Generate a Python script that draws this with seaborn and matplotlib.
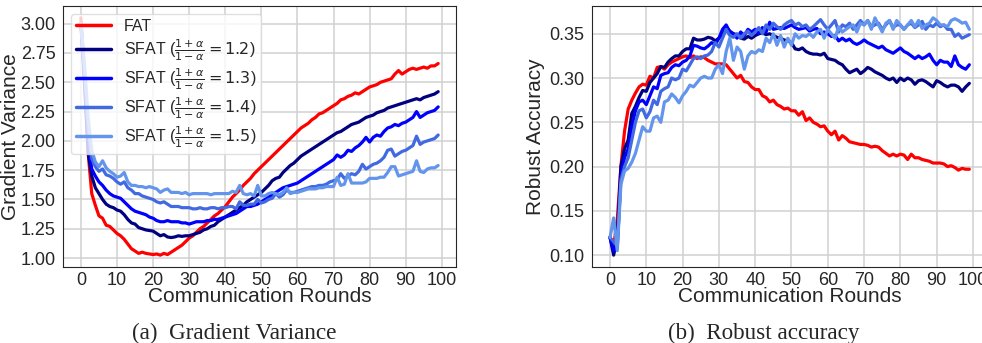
import numpy as np
import pandas as pd
import matplotlib
matplotlib.use("Agg")
import matplotlib.pyplot as plt
import seaborn as sns

rounds = list(range(100))
labels = ["FAT",
          r"SFAT ($\frac{1+\alpha}{1-\alpha}=1.2$)",
          r"SFAT ($\frac{1+\alpha}{1-\alpha}=1.3$)",
          r"SFAT ($\frac{1+\alpha}{1-\alpha}=1.4$)",
          r"SFAT ($\frac{1+\alpha}{1-\alpha}=1.5$)"]
colors = ["#ff0000", "#000080", "#0000ff", "#4169e1", "#6495ed"]

# ---- Gradient variance ----
gv_fat = [3.05, 2.55, 1.90, 1.55, 1.45, 1.36, 1.34, 1.28, 1.27, 1.24,
          1.21, 1.19, 1.16, 1.12, 1.08, 1.06, 1.04, 1.05, 1.04, 1.035,
          1.03, 1.035, 1.025, 1.04, 1.03, 1.05, 1.07, 1.09, 1.11, 1.14,
          1.17, 1.19, 1.22, 1.25, 1.27, 1.30, 1.33, 1.36, 1.38, 1.41,
          1.44, 1.48, 1.52, 1.55, 1.58, 1.62, 1.65, 1.68, 1.72, 1.75,
          1.78, 1.81, 1.84, 1.87, 1.90, 1.93, 1.96, 1.99, 2.02, 2.05,
          2.08, 2.11, 2.13, 2.15, 2.18, 2.20, 2.23, 2.24, 2.26, 2.28,
          2.30, 2.32, 2.35, 2.36, 2.38, 2.39, 2.41, 2.40, 2.42, 2.44,
          2.46, 2.47, 2.48, 2.50, 2.51, 2.52, 2.53, 2.57, 2.60, 2.57,
          2.59, 2.61, 2.62, 2.61, 2.62, 2.63, 2.62, 2.64, 2.64, 2.66]
gv_12 = [3.00, 2.50, 1.90, 1.70, 1.60, 1.55, 1.50, 1.46, 1.44, 1.43,
         1.41, 1.40, 1.37, 1.33, 1.30, 1.29, 1.26, 1.25, 1.24, 1.235,
         1.23, 1.21, 1.19, 1.20, 1.18, 1.175, 1.18, 1.19, 1.185, 1.19,
         1.19, 1.20, 1.21, 1.22, 1.24, 1.25, 1.27, 1.28, 1.31, 1.33,
         1.35, 1.37, 1.39, 1.41, 1.43, 1.45, 1.48, 1.50, 1.52, 1.54,
         1.56, 1.59, 1.62, 1.66, 1.68, 1.69, 1.73, 1.76, 1.79, 1.81,
         1.84, 1.87, 1.89, 1.91, 1.93, 1.95, 1.97, 1.99, 2.01, 2.03,
         2.05, 2.07, 2.08, 2.10, 2.12, 2.14, 2.15, 2.16, 2.18, 2.20,
         2.21, 2.22, 2.24, 2.25, 2.26, 2.28, 2.29, 2.30, 2.31, 2.32,
         2.33, 2.34, 2.35, 2.36, 2.35, 2.37, 2.38, 2.39, 2.40, 2.42]
gv_13 = [3.00, 2.55, 2.00, 1.76, 1.70, 1.65, 1.62, 1.58, 1.55, 1.53,
         1.52, 1.51, 1.48, 1.45, 1.42, 1.40, 1.39, 1.38, 1.37, 1.35,
         1.34, 1.32, 1.31, 1.31, 1.32, 1.31, 1.31, 1.31, 1.30, 1.30,
         1.29, 1.30, 1.31, 1.31, 1.31, 1.32, 1.32, 1.33, 1.33, 1.34,
         1.35, 1.36, 1.37, 1.38, 1.40, 1.42, 1.44, 1.44, 1.45, 1.46,
         1.48, 1.50, 1.52, 1.54, 1.56, 1.58, 1.60, 1.61, 1.62, 1.63,
         1.64, 1.66, 1.68, 1.70, 1.72, 1.74, 1.76, 1.78, 1.80, 1.82,
         1.84, 1.88, 1.86, 1.88, 1.92, 1.91, 1.94, 1.96, 1.99, 2.03,
         1.99, 2.03, 2.05, 2.04, 2.08, 2.11, 2.12, 2.14, 2.13, 2.15,
         2.16, 2.18, 2.20, 2.25, 2.20, 2.22, 2.24, 2.25, 2.26, 2.29]
gv_14 = [3.00, 2.60, 2.10, 1.85, 1.78, 1.74, 1.76, 1.71, 1.70, 1.68,
         1.65, 1.63, 1.65, 1.60, 1.58, 1.55, 1.55, 1.53, 1.52, 1.51,
         1.50, 1.48, 1.47, 1.48, 1.46, 1.44, 1.44, 1.44, 1.43, 1.43,
         1.43, 1.42, 1.42, 1.43, 1.42, 1.42, 1.43, 1.43, 1.42, 1.43,
         1.43, 1.44, 1.44, 1.42, 1.48, 1.45, 1.45, 1.46, 1.46, 1.50,
         1.47, 1.48, 1.50, 1.51, 1.55, 1.52, 1.54, 1.58, 1.56, 1.56,
         1.57, 1.58, 1.59, 1.60, 1.61, 1.61, 1.62, 1.62, 1.63, 1.65,
         1.66, 1.67, 1.72, 1.68, 1.70, 1.72, 1.71, 1.74, 1.80, 1.76,
         1.78, 1.80, 1.81, 1.83, 1.86, 1.92, 1.93, 1.87, 1.89, 1.91,
         1.92, 1.94, 1.96, 2.04, 1.97, 1.99, 2.00, 2.01, 2.02, 2.05]
gv_15 = [3.00, 2.65, 2.20, 1.92, 1.82, 1.78, 1.83, 1.77, 1.74, 1.72,
         1.69, 1.70, 1.73, 1.65, 1.62, 1.62, 1.61, 1.61, 1.60, 1.61,
         1.60, 1.59, 1.56, 1.58, 1.59, 1.56, 1.56, 1.56, 1.55, 1.56,
         1.54, 1.55, 1.55, 1.55, 1.55, 1.55, 1.54, 1.55, 1.55, 1.55,
         1.55, 1.55, 1.57, 1.56, 1.62, 1.55, 1.54, 1.55, 1.53, 1.62,
         1.53, 1.53, 1.55, 1.56, 1.55, 1.54, 1.56, 1.60, 1.55, 1.56,
         1.56, 1.57, 1.58, 1.59, 1.59, 1.59, 1.60, 1.60, 1.61, 1.61,
         1.61, 1.69, 1.62, 1.63, 1.72, 1.64, 1.64, 1.64, 1.64, 1.65,
         1.68, 1.68, 1.68, 1.69, 1.69, 1.73, 1.78, 1.78, 1.70, 1.71,
         1.72, 1.73, 1.74, 1.83, 1.74, 1.73, 1.76, 1.77, 1.77, 1.79]

# ---- Robust accuracy ----
ra_fat = [0.120, 0.110, 0.140, 0.200, 0.240, 0.265, 0.275, 0.283, 0.290, 0.293,
          0.292, 0.302, 0.300, 0.312, 0.313, 0.310, 0.315, 0.318, 0.320, 0.322,
          0.324, 0.325, 0.323, 0.325, 0.322, 0.324, 0.323, 0.320, 0.318, 0.316,
          0.316, 0.316, 0.315, 0.310, 0.305, 0.300, 0.303, 0.296, 0.295, 0.290,
          0.287, 0.287, 0.280, 0.278, 0.273, 0.275, 0.270, 0.268, 0.265, 0.266,
          0.263, 0.263, 0.258, 0.262, 0.252, 0.255, 0.250, 0.248, 0.245, 0.246,
          0.240, 0.236, 0.240, 0.230, 0.235, 0.232, 0.228, 0.227, 0.226, 0.225,
          0.225, 0.224, 0.222, 0.223, 0.222, 0.218, 0.215, 0.212, 0.214, 0.212,
          0.214, 0.213, 0.208, 0.214, 0.210, 0.210, 0.208, 0.207, 0.206, 0.204,
          0.204, 0.204, 0.203, 0.200, 0.201, 0.199, 0.196, 0.198, 0.197, 0.197]
ra_12 = [0.120, 0.100, 0.120, 0.200, 0.220, 0.230, 0.260, 0.268, 0.278, 0.286,
         0.285, 0.295, 0.300, 0.305, 0.313, 0.312, 0.318, 0.322, 0.325, 0.325,
         0.330, 0.333, 0.333, 0.345, 0.343, 0.343, 0.344, 0.346, 0.345, 0.342,
         0.345, 0.350, 0.358, 0.353, 0.350, 0.349, 0.345, 0.344, 0.347, 0.345,
         0.348, 0.350, 0.351, 0.349, 0.350, 0.348, 0.346, 0.345, 0.343, 0.342,
         0.340, 0.333, 0.332, 0.334, 0.330, 0.328, 0.327, 0.327, 0.326, 0.328,
         0.322, 0.321, 0.320, 0.317, 0.315, 0.310, 0.306, 0.308, 0.310, 0.305,
         0.308, 0.312, 0.310, 0.307, 0.305, 0.303, 0.300, 0.298, 0.300, 0.295,
         0.300, 0.297, 0.300, 0.298, 0.293, 0.297, 0.298, 0.296, 0.293, 0.290,
         0.297, 0.295, 0.292, 0.290, 0.292, 0.292, 0.290, 0.285, 0.290, 0.294]
ra_13 = [0.120, 0.105, 0.110, 0.190, 0.210, 0.220, 0.245, 0.263, 0.273, 0.275,
         0.270, 0.280, 0.290, 0.288, 0.303, 0.305, 0.306, 0.312, 0.315, 0.314,
         0.318, 0.320, 0.325, 0.337, 0.336, 0.334, 0.333, 0.336, 0.340, 0.338,
         0.345, 0.355, 0.360, 0.352, 0.350, 0.345, 0.352, 0.348, 0.355, 0.352,
         0.355, 0.350, 0.357, 0.352, 0.363, 0.355, 0.356, 0.357, 0.356, 0.358,
         0.360, 0.357, 0.355, 0.356, 0.357, 0.353, 0.355, 0.356, 0.350, 0.352,
         0.350, 0.347, 0.348, 0.342, 0.345, 0.342, 0.344, 0.340, 0.338, 0.340,
         0.343, 0.340, 0.338, 0.336, 0.334, 0.336, 0.332, 0.330, 0.328, 0.331,
         0.334, 0.330, 0.328, 0.325, 0.322, 0.325, 0.322, 0.324, 0.327, 0.320,
         0.315, 0.320, 0.318, 0.318, 0.313, 0.325, 0.315, 0.312, 0.310, 0.315]
ra_14 = [0.120, 0.115, 0.110, 0.185, 0.200, 0.210, 0.230, 0.250, 0.263, 0.265,
         0.255, 0.262, 0.275, 0.270, 0.285, 0.288, 0.290, 0.300, 0.298, 0.300,
         0.310, 0.308, 0.315, 0.322, 0.324, 0.322, 0.325, 0.326, 0.330, 0.340,
         0.335, 0.345, 0.355, 0.348, 0.346, 0.350, 0.345, 0.350, 0.353, 0.348,
         0.352, 0.357, 0.350, 0.360, 0.355, 0.362, 0.358, 0.355, 0.360, 0.363,
         0.365, 0.360, 0.362, 0.358, 0.360, 0.355, 0.358, 0.362, 0.366, 0.360,
         0.355, 0.360, 0.365, 0.352, 0.360, 0.358, 0.362, 0.355, 0.360, 0.365,
         0.360, 0.365, 0.358, 0.360, 0.362, 0.355, 0.360, 0.365, 0.357, 0.360,
         0.360, 0.355, 0.360, 0.362, 0.357, 0.360, 0.364, 0.355, 0.360, 0.358,
         0.362, 0.358, 0.360, 0.355, 0.355, 0.347, 0.350, 0.345, 0.347, 0.349]
ra_15 = [0.120, 0.142, 0.105, 0.180, 0.195, 0.198, 0.205, 0.215, 0.230, 0.245,
         0.240, 0.240, 0.255, 0.257, 0.250, 0.273, 0.275, 0.282, 0.278, 0.272,
         0.280, 0.285, 0.292, 0.290, 0.295, 0.300, 0.302, 0.300, 0.300, 0.310,
         0.315, 0.305, 0.330, 0.345, 0.320, 0.335, 0.330, 0.310, 0.325, 0.330,
         0.328, 0.332, 0.330, 0.345, 0.340, 0.350, 0.337, 0.348, 0.335, 0.345,
         0.337, 0.350, 0.345, 0.348, 0.347, 0.350, 0.346, 0.352, 0.355, 0.345,
         0.355, 0.350, 0.345, 0.358, 0.352, 0.355, 0.358, 0.360, 0.352, 0.362,
         0.360, 0.365, 0.355, 0.368, 0.360, 0.352, 0.362, 0.365, 0.355, 0.365,
         0.360, 0.355, 0.360, 0.365, 0.358, 0.365, 0.356, 0.360, 0.362, 0.368,
         0.365, 0.360, 0.360, 0.358, 0.365, 0.367, 0.365, 0.362, 0.363, 0.355]

gv_series = [gv_fat, gv_12, gv_13, gv_14, gv_15]
ra_series = [ra_fat, ra_12, ra_13, ra_14, ra_15]


def long_df(series_list):
    frames = []
    for lab, vals in zip(labels, series_list):
        frames.append(pd.DataFrame({"round": rounds, "value": vals, "method": lab}))
    return pd.concat(frames, ignore_index=True)


sns.set_style("whitegrid", {
    "axes.edgecolor": "0.15",
    "grid.color": "0.82",
    "axes.linewidth": 1.2,
})
plt.rcParams["font.family"] = ["Liberation Sans", "DejaVu Sans"]
plt.rcParams["mathtext.fontset"] = "dejavusans"

palette = dict(zip(labels, colors))

fig = plt.figure(figsize=(9.82, 3.43), dpi=100)
ax1 = fig.add_axes([0.0642, 0.2216, 0.4002, 0.761])
ax2 = fig.add_axes([0.6029, 0.2216, 0.4025, 0.761])

sns.lineplot(data=long_df(gv_series), x="round", y="value", hue="method",
             hue_order=labels, palette=palette, linewidth=2.3, ax=ax1)
sns.lineplot(data=long_df(ra_series), x="round", y="value", hue="method",
             hue_order=labels, palette=palette, linewidth=2.3, ax=ax2, legend=False)

for ax in (ax1, ax2):
    ax.set_xticks(range(0, 101, 10))
    ax.tick_params(axis="x", labelsize=13, pad=0)
    ax.tick_params(axis="y", labelsize=13, pad=2)
    ax.set_xlabel("Communication Rounds", fontsize=15, labelpad=-1)
    ax.grid(True, linewidth=1.1)

ax1.set_yticks([1.00, 1.25, 1.50, 1.75, 2.00, 2.25, 2.50, 2.75, 3.00])
ax1.set_ylabel("Gradient Variance", fontsize=15, labelpad=0)
ax2.set_yticks([0.10, 0.15, 0.20, 0.25, 0.30, 0.35])
ax2.set_ylabel("Robust Accuracy", fontsize=15, labelpad=3)

leg = ax1.legend(loc="upper left", fontsize=11.5, handlelength=2.2,
                 labelspacing=0.2, borderaxespad=0.5, borderpad=0.3)
leg.get_frame().set_edgecolor("0.85")
for line in leg.get_lines():
    line.set_linewidth(2.5)

fig.text(0.239, 0.028, "(a)  Gradient Variance", ha="center", va="center",
         fontsize=16.7, family="Liberation Serif")
fig.text(0.778, 0.028, "(b)  Robust accuracy", ha="center", va="center",
         fontsize=16.7, family="Liberation Serif")

fig.savefig("out.png", dpi=100)
